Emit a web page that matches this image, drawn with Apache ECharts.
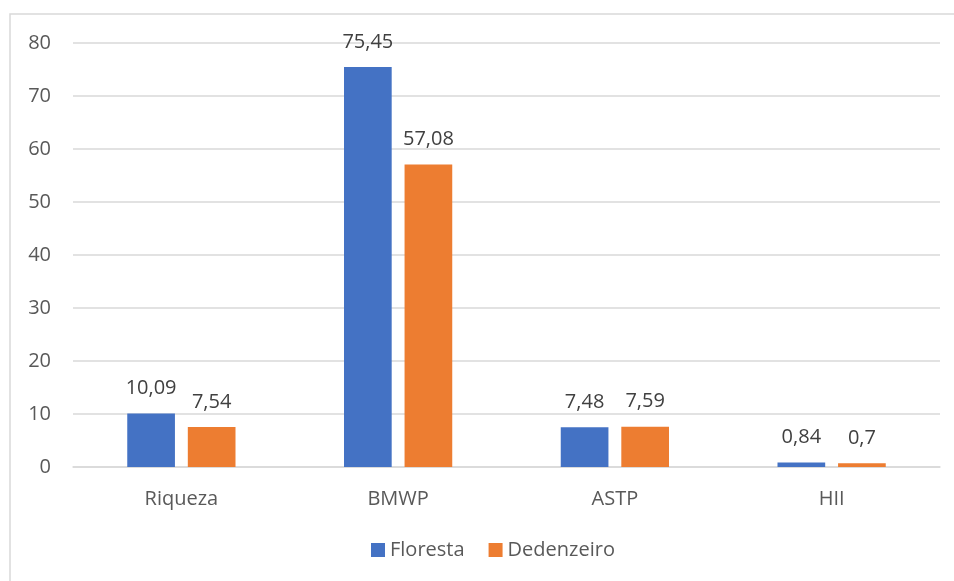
<!DOCTYPE html>
<html>
<head>
<meta charset="utf-8">
<script src="https://cdn.jsdelivr.net/npm/echarts@6/dist/echarts.min.js"></script>
<style>
  html, body { margin: 0; padding: 0; background: #fff; }
  #chart { width: 954px; height: 581px; }
</style>
</head>
<body>
<div id="chart"></div>
<script>
// Índices bióticos por tipo de ambiente
const categories = ['Riqueza', 'BMWP', 'ASTP', 'HII'];
const floresta = [10.09, 75.45, 7.48, 0.84];
const dedenzeiro = [7.54, 57.08, 7.59, 0.7];
const seriesNames = ['Floresta', 'Dedenzeiro'];

const fmt = v => String(v).replace('.', ',');
const textColor = '#595959';
const fontFamily = '"Open Sans", "Noto Sans", sans-serif';

const chart = echarts.init(document.getElementById('chart'), null, { renderer: 'canvas' });

const labelOpt = {
  show: true,
  position: 'top',
  distance: 15,
  color: '#404040',
  fontSize: 20,
  fontFamily,
  formatter: p => fmt(p.value)
};

chart.setOption({
  animation: false,
  backgroundColor: '#fff',
  textStyle: { fontFamily },
  graphic: [{
    type: 'rect',
    shape: { x: 10, y: 14, width: 950, height: 600 },
    style: { fill: 'none', stroke: '#d9d9d9', lineWidth: 1.5 },
    silent: true
  }],
  legend: {
    data: seriesNames,
    bottom: 16,
    left: 366,
    itemWidth: 14,
    itemHeight: 14,
    itemGap: 24,
    icon: 'rect',
    textStyle: { color: textColor, fontSize: 20, fontFamily }
  },
  grid: { left: 73, right: 14, top: 43, bottom: 114, containLabel: false },
  xAxis: {
    type: 'category',
    data: categories,
    axisLine: { show: true, lineStyle: { color: '#d9d9d9', width: 1.5 } },
    axisTick: { show: false },
    axisLabel: { color: textColor, fontSize: 20, margin: 22, fontFamily }
  },
  yAxis: {
    type: 'value',
    min: 0,
    max: 80,
    interval: 10,
    axisLine: { show: false },
    axisTick: { show: false },
    axisLabel: { color: textColor, fontSize: 20, margin: 22, align: 'right', fontFamily },
    splitLine: { lineStyle: { color: '#d9d9d9', width: 1.5 } }
  },
  series: [
    {
      name: seriesNames[0],
      type: 'bar',
      data: floresta,
      barWidth: '22%',
      barGap: '27%',
      itemStyle: { color: '#4472C4' },
      label: labelOpt
    },
    {
      name: seriesNames[1],
      type: 'bar',
      data: dedenzeiro,
      barWidth: '22%',
      itemStyle: { color: '#ED7D31' },
      label: labelOpt
    }
  ]
});
</script>
</body>
</html>
